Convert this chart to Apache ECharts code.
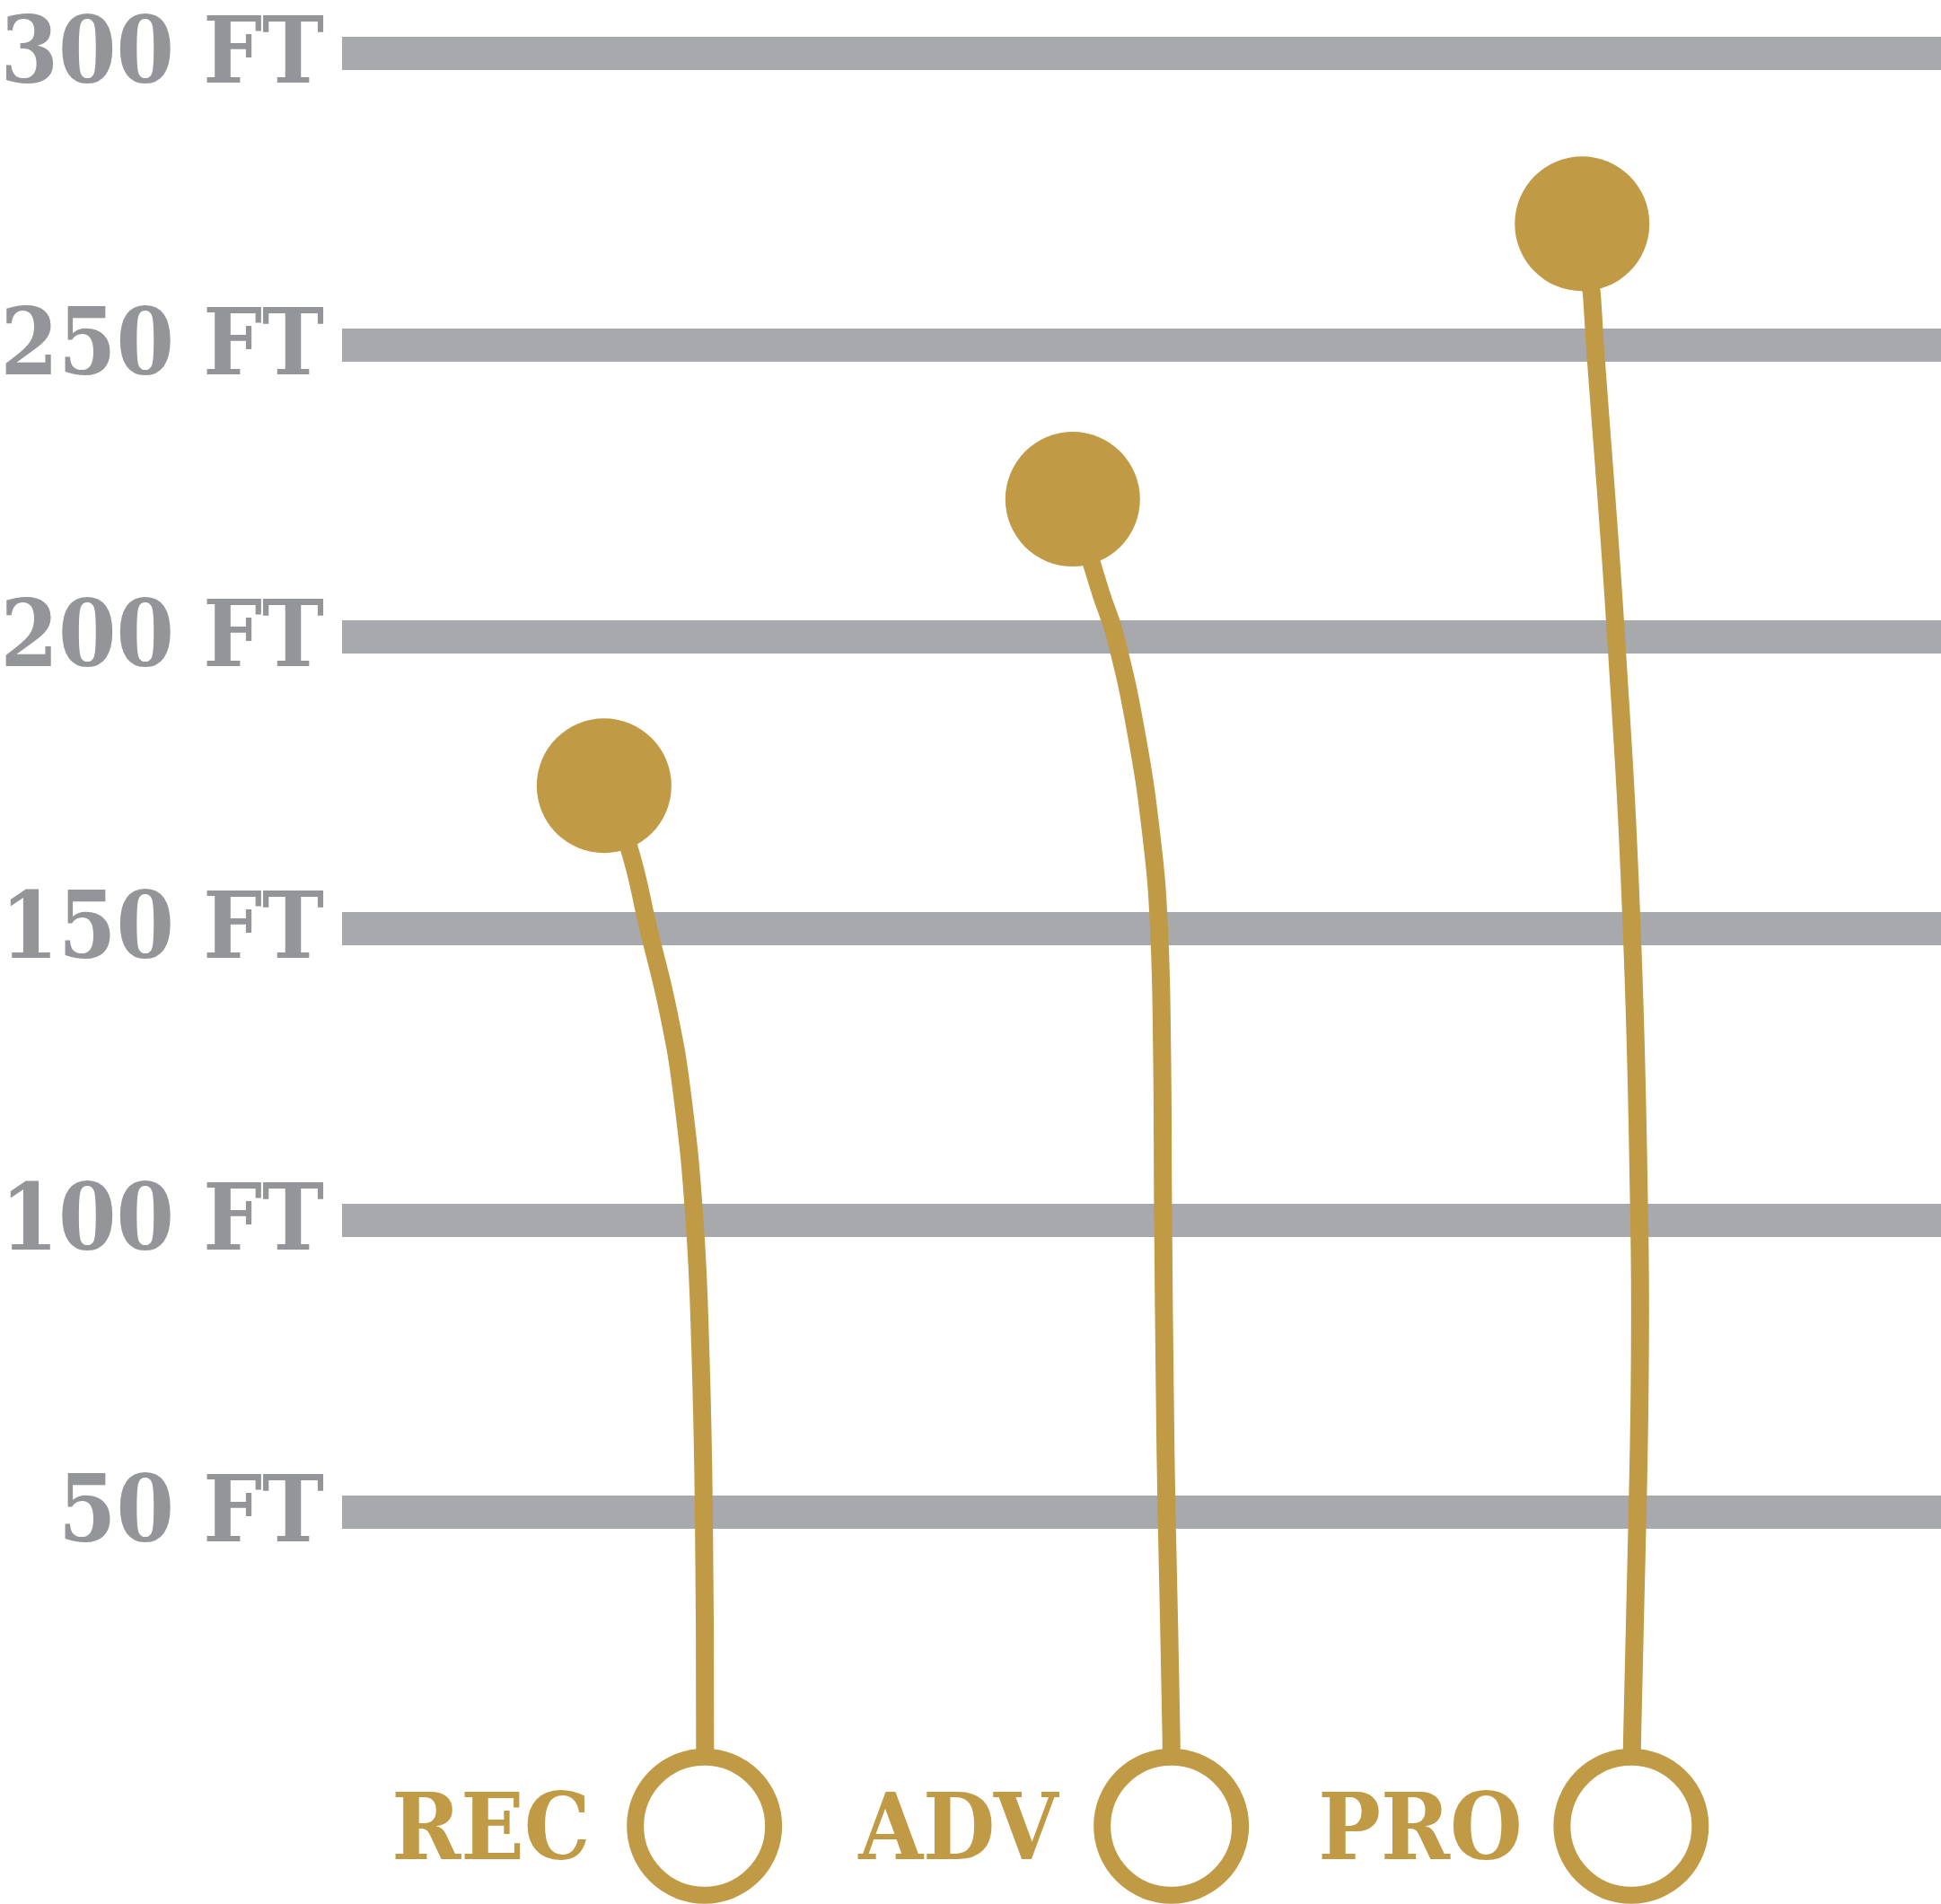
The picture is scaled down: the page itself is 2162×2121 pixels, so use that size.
<!DOCTYPE html>
<html>
<head>
<meta charset="utf-8">
<script src="https://cdn.jsdelivr.net/npm/echarts@6/dist/echarts.min.js"></script>
<style>
  html, body { margin: 0; padding: 0; background: #ffffff; }
  #chart { width: 2162px; height: 2121px; }
</style>
</head>
<body>
<div id="chart"></div>
<script>
// ---- data ----
// horizontal position is in the same feet-scale as height
var categories = ['REC', 'ADV', 'PRO'];
var topX = [44.9, 125.2, 212.5];
var topHeight = [174.5, 223.6, 270.8];
var baseX = [62.1, 142.1, 220.9];
var baseY = [-3.8, -3.8, -3.8];

var recPath = [[44.9, 174.5], [49.1, 164.1], [52.5, 150.0], [55.9, 135.8], [58.3, 121.5],
               [60.4, 100.0], [61.4, 78.0], [62.0, 50.0], [62.2, 10.5], [62.1, -3.8]];
var advPath = [[125.2, 223.6], [130.0, 207.6], [132.5, 200.1], [136.1, 183.5], [138.8, 165.0],
               [140.0, 150.0], [140.5, 130.1], [140.7, 100.0], [141.0, 70.1], [141.3, 49.9],
               [142.1, 11.4], [142.1, -3.8]];
var proPath = [[212.5, 270.8], [213.9, 261.4], [214.7, 250.1], [218.3, 200.3], [221.0, 150.3],
               [222.3, 100.1], [222.4, 75.8], [222.0, 50.3], [221.1, 12.2], [220.9, -3.8]];

var yTicks = [0, 50, 100, 150, 200, 250, 300];
var yUnit = ' FT';

// ---- styles ----
var GOLD = '#c19a45';
var GRID_GRAY = '#a7a9ac';
var TEXT_GRAY = '#939598';
var FONT = '"DejaVu Serif Condensed", "DejaVu Serif", serif';

var chart = echarts.init(document.getElementById('chart'), null, { renderer: 'canvas' });

var paths = [recPath, advPath, proPath];

option = {
  backgroundColor: '#ffffff',
  animation: false,
  grid: { left: 381, right: 0, top: 59.5, bottom: 111.5, containLabel: false, outerBoundsMode: 'none' },
  xAxis: {
    type: 'value', min: 0, max: 274,
    axisLine: { show: false }, axisTick: { show: false }, axisLabel: { show: false },
    splitLine: { show: false }
  },
  yAxis: {
    type: 'value', min: yTicks[0], max: yTicks[yTicks.length - 1], interval: yTicks[1] - yTicks[0],
    axisLine: { show: false }, axisTick: { show: false },
    splitLine: { show: true, showMinLine: false, lineStyle: { color: GRID_GRAY, width: 37 } },
    axisLabel: {
      showMinLabel: false,
      margin: 20,
      color: TEXT_GRAY,
      fontFamily: FONT,
      fontWeight: 'bold',
      fontSize: 103,
      formatter: function (v) { return v === 0 ? '' : '{a|' + v + yUnit + '}'; },
      rich: {
        a: {
          padding: [12, 0, 0, 0],
          color: TEXT_GRAY,
          fontFamily: FONT,
          fontWeight: 'bold',
          fontSize: 103
        }
      }
    }
  },
  series: [
    {
      type: 'custom',
      name: 'stems',
      coordinateSystem: 'cartesian2d',
      data: topX.map(function (x, i) { return [x, topHeight[i]]; }),
      clip: false,
      silent: true,
      z: 2,
      renderItem: function (params, api) {
        var pts = paths[params.dataIndex].map(function (p) { return api.coord(p); });
        return {
          type: 'polyline',
          shape: { points: pts, smooth: 0.45 },
          style: { stroke: GOLD, lineWidth: 20, fill: null, lineCap: 'butt', lineJoin: 'round' }
        };
      }
    },
    {
      type: 'scatter',
      name: 'top',
      data: topX.map(function (x, i) { return [x, topHeight[i]]; }),
      symbol: 'circle',
      symbolSize: 150,
      clip: false,
      itemStyle: { color: GOLD, opacity: 1 },
      z: 3,
      silent: true
    },
    {
      type: 'scatter',
      name: 'base',
      data: baseX.map(function (x, i) { return { value: [x, baseY[i]], name: categories[i] }; }),
      symbol: 'circle',
      symbolSize: 154,
      clip: false,
      itemStyle: { color: '#ffffff', borderColor: GOLD, borderWidth: 19, opacity: 1 },
      label: {
        show: true,
        position: 'left',
        distance: 262,
        align: 'left',
        verticalAlign: 'middle',
        offset: [0, 10],
        formatter: '{b}',
        color: GOLD,
        fontFamily: FONT,
        fontWeight: 'bold',
        fontSize: 103
      },
      z: 4,
      silent: true
    }
  ]
};

chart.setOption(option);
</script>
</body>
</html>
